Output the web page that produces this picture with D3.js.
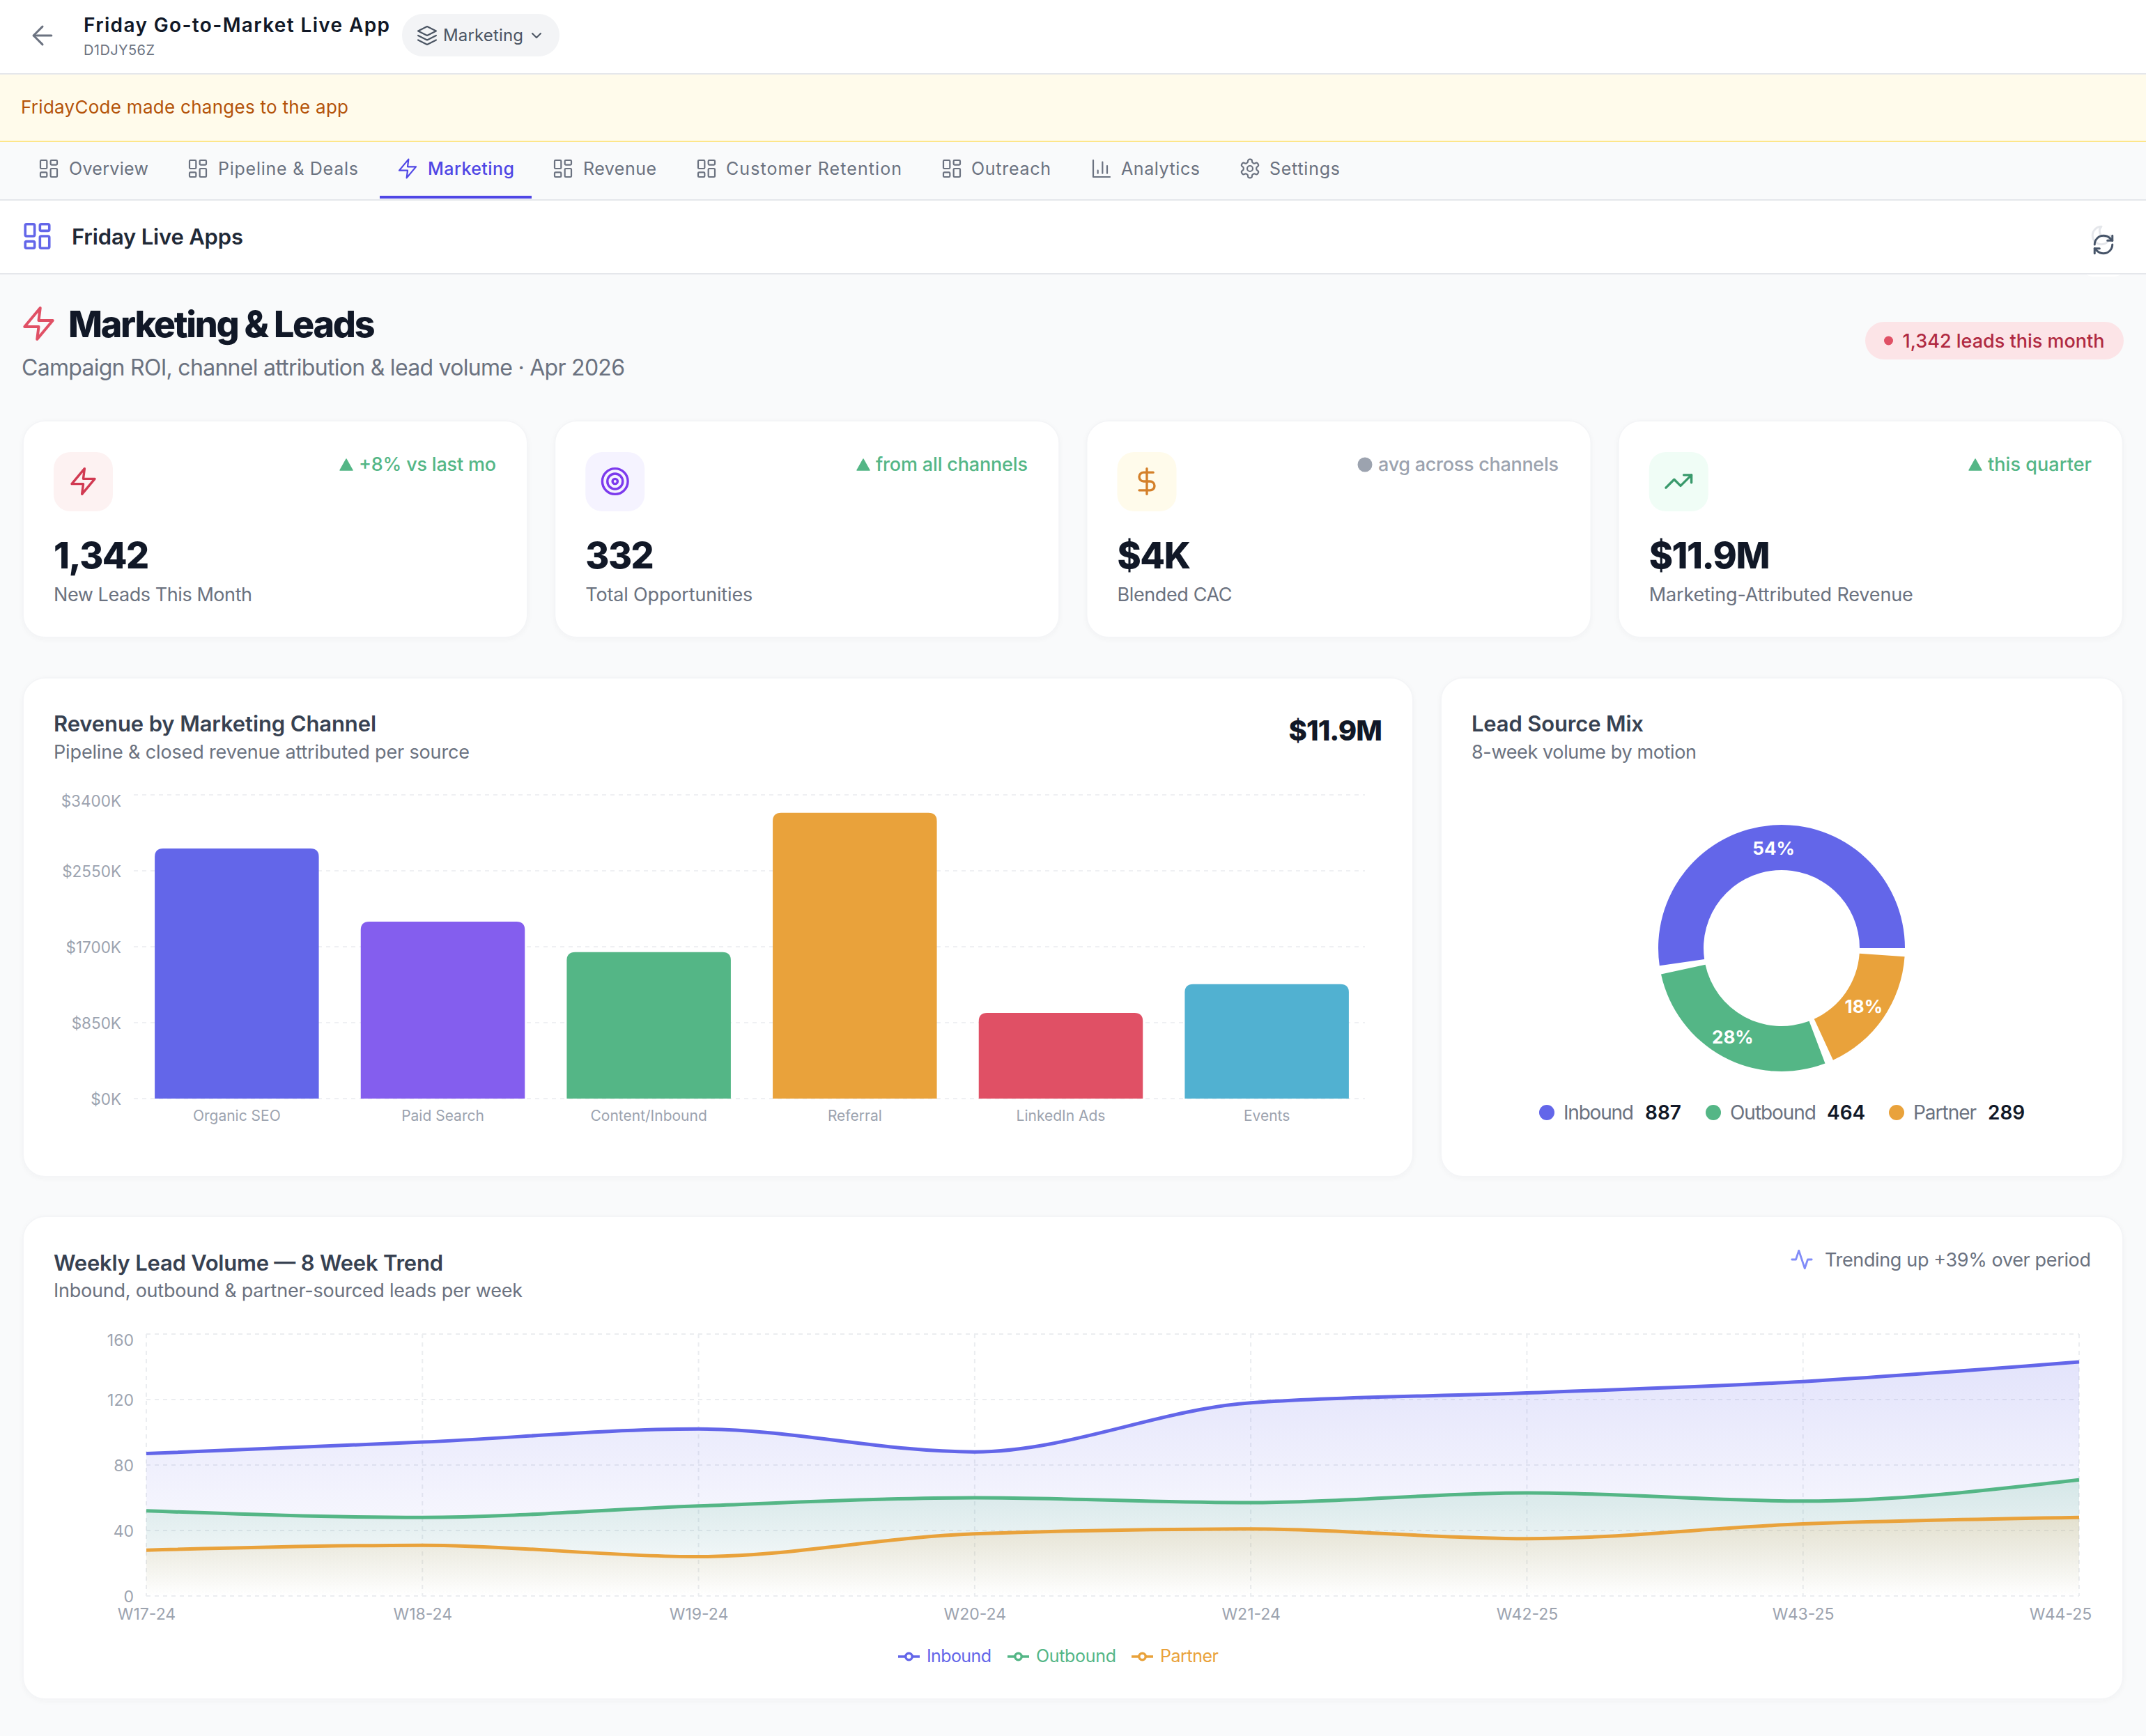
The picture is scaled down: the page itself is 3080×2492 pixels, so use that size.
<!DOCTYPE html>
<html>
<head>
<meta charset="utf-8">
<title>Marketing & Leads</title>
<style>
  html, body { margin: 0; padding: 0; background: #f9fafb; }
  svg { display: block; font-family: Inter, "Noto Sans", sans-serif; }
  .card { fill: #fff; stroke: #f4f5f7; stroke-width: 2; filter: drop-shadow(0 2px 3px rgba(17,24,39,.03)); }
  .icon path, .icon rect, .icon circle { fill: none; stroke-linecap: round; stroke-linejoin: round; }
</style>
</head>
<body>
<script src="https://cdn.jsdelivr.net/npm/d3@7"></script>
<script>
// chart data
var channels = ["Organic SEO", "Paid Search", "Content/Inbound", "Referral", "LinkedIn Ads", "Events"];
var channelRevenue = [2800, 1980, 1640, 3200, 960, 1280];
var revenueTicks = [0, 850, 1700, 2550, 3400];

var mixNames = ["Inbound", "Outbound", "Partner"];
var mixValues = [887, 464, 289];
var mixPercent = ["54%", "28%", "18%"];

var weeks = ["W17-24", "W18-24", "W19-24", "W20-24", "W21-24", "W42-25", "W43-25", "W44-25"];
var inbound = [87, 94, 102, 88, 118, 124, 131, 143];
var outbound = [52, 48, 55, 60, 57, 63, 58, 71];
var partner = [28, 31, 24, 38, 41, 35, 44, 48];
var volumeTicks = [0, 40, 80, 120, 160];

var kpiValues = ["1,342", "332", "$4K", "$11.9M"];
var kpiLabels = ["New Leads This Month", "Total Opportunities", "Blended CAC", "Marketing-Attributed Revenue"];
var kpiNotes = ["+8% vs last mo", "from all channels", "avg across channels", "this quarter"];

var tabNames = ["Overview", "Pipeline & Deals", "Marketing", "Revenue", "Customer Retention", "Outreach", "Analytics", "Settings"];

// colours
var indigo = "#6366e9", green = "#54b686", amber = "#e9a23b", rose = "#e05065";
var channelColor = d3.scaleOrdinal(channels, [indigo, "#845eee", green, amber, rose, "#51b1d1"]);
var mixColor = d3.scaleOrdinal(mixNames, [indigo, green, amber]);

// lucide style icons, 24 unit box
var icons = {
  back: ["m12 19-7-7 7-7", "M19 12H5"],
  layers: ["M12 2 2 7l10 5 10-5-10-5z", "M2 12l10 5 10-5", "M2 17l10 5 10-5"],
  chevron: ["m6 9 6 6 6-6"],
  dash: ["M4 3h5a1 1 0 0 1 1 1v7a1 1 0 0 1-1 1H4a1 1 0 0 1-1-1V4a1 1 0 0 1 1-1z",
         "M15 3h5a1 1 0 0 1 1 1v3a1 1 0 0 1-1 1h-5a1 1 0 0 1-1-1V4a1 1 0 0 1 1-1z",
         "M15 12h5a1 1 0 0 1 1 1v7a1 1 0 0 1-1 1h-5a1 1 0 0 1-1-1v-7a1 1 0 0 1 1-1z",
         "M4 16h5a1 1 0 0 1 1 1v3a1 1 0 0 1-1 1H4a1 1 0 0 1-1-1v-3a1 1 0 0 1 1-1z"],
  zap: ["M13 2 3 14h9l-1 8 10-12h-9l1-8z"],
  bars: ["M3 3v18h18", "M18 17V9", "M13 17V5", "M8 17v-3"],
  gear: ["M12.22 2h-.44a2 2 0 0 0-2 2v.18a2 2 0 0 1-1 1.73l-.43.25a2 2 0 0 1-2 0l-.15-.08a2 2 0 0 0-2.73.73l-.22.38a2 2 0 0 0 .73 2.73l.15.1a2 2 0 0 1 1 1.72v.51a2 2 0 0 1-1 1.74l-.15.09a2 2 0 0 0-.73 2.73l.22.38a2 2 0 0 0 2.73.73l.15-.08a2 2 0 0 1 2 0l.43.25a2 2 0 0 1 1 1.73V20a2 2 0 0 0 2 2h.44a2 2 0 0 0 2-2v-.18a2 2 0 0 1 1-1.73l.43-.25a2 2 0 0 1 2 0l.15.08a2 2 0 0 0 2.73-.73l.22-.39a2 2 0 0 0-.73-2.73l-.15-.08a2 2 0 0 1-1-1.74v-.5a2 2 0 0 1 1-1.74l.15-.09a2 2 0 0 0 .73-2.73l-.22-.38a2 2 0 0 0-2.73-.73l-.15.08a2 2 0 0 1-2 0l-.43-.25a2 2 0 0 1-1-1.73V4a2 2 0 0 0-2-2z",
         "M15 12a3 3 0 1 1-6 0 3 3 0 0 1 6 0z"],
  refresh: ["M3 12a9 9 0 0 1 9-9 9.75 9.75 0 0 1 6.74 2.74L21 8", "M21 3v5h-5", "M21 12a9 9 0 0 1-9 9 9.75 9.75 0 0 1-6.74-2.74L3 16", "M8 16H3v5"],
  moon: ["M12 3a6 6 0 0 0 9 9 9 9 0 1 1-9-9Z"],
  target: ["M22 12a10 10 0 1 1-20 0 10 10 0 0 1 20 0z", "M18 12a6 6 0 1 1-12 0 6 6 0 0 1 12 0z", "M14 12a2 2 0 1 1-4 0 2 2 0 0 1 4 0z"],
  dollar: ["M12 2v20", "M17 5H9.5a3.5 3.5 0 0 0 0 7h5a3.5 3.5 0 0 1 0 7H6"],
  trend: ["M22 7 13.5 15.5 8.5 10.5 2 17", "M16 7h6v6"],
  pulse: ["M22 12h-4l-3 9L9 3l-3 9H2"]
};

var svg = d3.select("body").append("svg").attr("width", 3080).attr("height", 2492);
var defs = svg.append("defs");

function icon(name, cx, cy, size, color, sw) {
  var k = size / 24;
  var g = svg.append("g").attr("class", "icon")
    .attr("transform", "translate(" + (cx - size / 2) + "," + (cy - size / 2) + ") scale(" + k + ")");
  g.selectAll("path").data(icons[name]).join("path")
    .attr("d", function(d) { return d; })
    .attr("stroke", color)
    .attr("stroke-width", sw / k);
}

// w = width the text should take in the picture
function label(x, y, str, size, fill, weight, anchor, w, spacing) {
  var t = svg.append("text").attr("x", x).attr("y", y).text(str)
    .attr("font-size", size).attr("fill", fill)
    .attr("font-weight", weight || 400)
    .attr("text-anchor", anchor || "start");
  if (w) t.attr("textLength", w);
  if (spacing) t.attr("letter-spacing", spacing);
  return t;
}

function box(x, y, w, h, fill, rx) {
  return svg.append("rect").attr("x", x).attr("y", y).attr("width", w).attr("height", h)
    .attr("fill", fill).attr("rx", rx || 0);
}

function card(x, y, w, h) {
  svg.append("rect").attr("class", "card").attr("x", x).attr("y", y)
    .attr("width", w).attr("height", h).attr("rx", 32);
}

function triangle(x0, x1, y0, y1, color) {
  svg.append("path")
    .attr("d", "M" + (x0 + x1) / 2 + "," + y0 + "L" + x1 + "," + y1 + "L" + x0 + "," + y1 + "Z")
    .attr("fill", color).attr("stroke", color).attr("stroke-width", 1.5).attr("stroke-linejoin", "round");
}

// axis() puts sans-serif on its group, take it off again and style the labels
function styleAxis(g, size) {
  g.attr("font-family", null).attr("font-size", null);
  g.select(".domain").remove();
  return g.selectAll("text").attr("font-size", size).attr("fill", "#9ca3af");
}

/* ---- page chrome ---- */
box(0, 0, 3080, 2492, "#f9fafb");
box(0, 0, 3080, 105, "#fff");
box(0, 105, 3080, 2, "#e5e7eb");
icon("back", 61, 51, 44, "#6b7280", 3);
label(120, 46, "Friday Go-to-Market Live App", 28, "#111827", 600, "start", 439);
label(120, 79, "D1DJY56Z", 20, "#6b7280", 400, "start", 102);
box(577, 20, 226, 61, "#f3f4f6", 30);
icon("layers", 613, 51, 31, "#4b5563", 2.2);
label(636, 59, "Marketing", 24, "#4b5563", 400, "start", 115);
icon("chevron", 770, 51, 24, "#4b5563", 2);

box(0, 107, 3080, 96, "#fffbeb");
box(0, 202, 3080, 2, "#fde68a");
label(30, 163, "FridayCode made changes to the app", 26, "#b45309", 400, "start", 470);

box(0, 204, 3080, 82, "#f9fafb");
box(0, 286, 3080, 2, "#e5e7eb");
var tabIcon = ["dash", "dash", "zap", "dash", "dash", "dash", "bars", "gear"];
var tabIconX = [70, 284, 585, 808, 1014, 1366, 1581, 1794];
var tabTextX = [99, 313, 614, 837, 1042, 1394, 1609, 1822];
var tabTextW = [114, 201, 124, 105, 252, 114, 113, 101];
tabNames.forEach(function(name, i) {
  var on = name === "Marketing";
  icon(tabIcon[i], tabIconX[i], 242, 32, on ? "#4f46e5" : "#6b7280", 2.2);
  label(tabTextX[i], 251, name, 25, on ? "#4f46e5" : "#6b7280", on ? 500 : 400, "start", tabTextW[i]);
});
box(545, 281, 218, 4, "#4f46e5");

box(2985, 300, 68, 97, "#fff", 20);
box(0, 288, 3080, 104, "#fff");
box(0, 392, 3080, 2, "#e5e7eb");
icon("dash", 53.5, 339, 46, indigo, 3.6);
label(103, 351, "Friday Live Apps", 31, "#1f2937", 600, "start", 246);
icon("moon", 3016, 338, 34, "#e5e7eb", 3);
icon("refresh", 3019, 351, 34, "#475569", 3);

icon("zap", 55.5, 464.5, 54, rose, 4);
label(98, 484, "Marketing & Leads", 52, "#111827", 800, "start", 439, "-1.5");
label(31, 539, "Campaign ROI, channel attribution & lead volume · Apr 2026", 32, "#6b7280", 400, "start", 866);

box(2677, 462, 371, 54, "#fce4e7", 27);
svg.append("circle").attr("cx", 2710.5).attr("cy", 489).attr("r", 6.5).attr("fill", rose);
label(2730.5, 499, "1,342 leads this month", 27, "#b02a42", 500, "start", 290);

/* ---- kpi cards ---- */
var kpiIcon = ["zap", "target", "dollar", "trend"];
var kpiTint = ["#fdf2f2", "#f5f3ff", "#fffbeb", "#f0fdf6"];
var kpiStroke = ["#d13a52", "#7c3aed", "#d4802a", "#3a9a6c"];
var noteLeft = [515, 1257, 1978, 2853];
var noteWidth = [197, 218, 259, 149];
var labelWidth = [285, 240, 165, 379];
kpiValues.forEach(function(v, i) {
  var x = 33 + i * 763.25;
  card(x, 604, 724, 311);
  box(x + 44, 649, 85, 85, kpiTint[i], 24);
  icon(kpiIcon[i], x + 86.5, 691, 44, kpiStroke[i], 3.4);
  label(x + 44, 816, v, 52, "#111827", 800, "start", null, "-1.5");
  label(x + 44, 863, kpiLabels[i], 27, "#6b7280", 400, "start", labelWidth[i]);
  var flat = i === 2;
  var color = flat ? "#9ca3af" : green;
  if (flat) {
    svg.append("circle").attr("cx", noteLeft[i] - 19).attr("cy", 667).attr("r", 10.5).attr("fill", color);
  } else {
    triangle(noteLeft[i] - 27, noteLeft[i] - 9, 659, 675, color);
  }
  label(noteLeft[i], 676, kpiNotes[i], 27, color, 500, "start", noteWidth[i]);
});

/* ---- revenue bars ---- */
card(33, 973, 1995, 716);
label(77, 1050, "Revenue by Marketing Channel", 31, "#374151", 600, "start", 463);
label(77, 1089, "Pipeline & closed revenue attributed per source", 27, "#6b7280", 400, "start", 597);
label(1983, 1063, "$11.9M", 40, "#111827", 800, "end", null, "-1");

var barX = d3.scaleBand().domain(channels).range([192, 1966]).paddingInner(0.2035).paddingOuter(0.1018);
var barY = d3.scaleLinear().domain([0, 3400]).range([1577, 1141]);

svg.append("g").selectAll("line").data(revenueTicks).join("line")
  .attr("x1", 192).attr("x2", 1959)
  .attr("y1", barY).attr("y2", barY)
  .attr("stroke", "#eff0f3").attr("stroke-width", 2).attr("stroke-dasharray", "6 6");

var barAxis = svg.append("g").attr("transform", "translate(186,0)")
  .call(d3.axisLeft(barY).tickValues(revenueTicks).tickSize(0).tickPadding(12)
    .tickFormat(function(d) { return "$" + d + "K"; }));
styleAxis(barAxis, 22.5)
  .attr("dy", function(d) { return d === 3400 ? "0.72em" : "0.36em"; });

svg.append("g").selectAll("path").data(channels).join("path")
  .attr("fill", function(d) { return channelColor(d); })
  .attr("d", function(d, i) {
    var x = barX(d), w = barX.bandwidth(), y = barY(channelRevenue[i]), b = barY(0), r = 12;
    return "M" + x + "," + b + "V" + (y + r) + "Q" + x + "," + y + " " + (x + r) + "," + y +
      "H" + (x + w - r) + "Q" + (x + w) + "," + y + " " + (x + w) + "," + (y + r) + "V" + b + "Z";
  });

var catAxis = svg.append("g").attr("transform", "translate(0,1577)")
  .call(d3.axisBottom(barX).tickSize(0).tickPadding(17));
styleAxis(catAxis, 21);

/* ---- lead source donut ---- */
card(2068, 973, 979, 716);
label(2112, 1050, "Lead Source Mix", 31, "#374151", 600, "start", 247);
label(2112, 1089, "8-week volume by motion", 27, "#6b7280", 400, "start", 323);

var padA = 4 * Math.PI / 180;
var pie = d3.pie().sort(null).startAngle(Math.PI / 2).endAngle(Math.PI / 2 - 2 * Math.PI).padAngle(padA);
var slices = pie(mixValues);
// pie keeps the pad inside each slice; leave it as a wedge gap after the slice
var arc = d3.arc().innerRadius(112).outerRadius(177)
  .startAngle(function(d) { return d.startAngle; })
  .endAngle(function(d) { return d.endAngle + padA; })
  .padAngle(0);
var donut = svg.append("g").attr("transform", "translate(2557,1361)");
donut.selectAll("path").data(slices).join("path")
  .attr("d", arc)
  .attr("fill", function(d, i) { return mixColor(mixNames[i]); });
donut.selectAll("text").data(slices).join("text")
  .attr("transform", function(d) { return "translate(" + arc.centroid(d) + ")"; })
  .attr("dx", -1).attr("dy", "0.4em").attr("text-anchor", "middle")
  .attr("font-size", 26).attr("font-weight", 700).attr("fill", "#fff")
  .text(function(d, i) { return mixPercent[i]; });

var mixDotX = [2220, 2459, 2722];
var mixNameW = [101, 124, 91];
var mixValueX = [2361, 2622, 2853];
mixNames.forEach(function(name, i) {
  svg.append("circle").attr("cx", mixDotX[i]).attr("cy", 1597).attr("r", 11).attr("fill", mixColor(name));
  label(mixDotX[i] + 24, 1607, name, 28, "#6b7280", 400, "start", mixNameW[i]);
  label(mixValueX[i], 1607, mixValues[i], 28, "#111827", 600);
});

/* ---- weekly volume ---- */
card(33, 1746, 3014, 693);
label(77, 1824, "Weekly Lead Volume — 8 Week Trend", 31, "#374151", 600, "start", 559);
label(77, 1862, "Inbound, outbound & partner-sourced leads per week", 27, "#6b7280", 400, "start", 673);
icon("pulse", 2586, 1808, 34, "#818cf8", 2.8);
label(2619, 1818, "Trending up +39% over period", 27, "#6b7280", 400, "start", 382);

var lineX = d3.scalePoint().domain(weeks).range([210, 2984]);
var lineY = d3.scaleLinear().domain([0, 160]).range([2291, 1915]);

var gridG = svg.append("g").attr("stroke", "#ebedf0").attr("stroke-width", 2).attr("stroke-dasharray", "6 6");
gridG.selectAll(".h").data(volumeTicks).join("line").attr("class", "h")
  .attr("x1", 210).attr("x2", 2984).attr("y1", lineY).attr("y2", lineY);
gridG.selectAll(".v").data(weeks).join("line").attr("class", "v")
  .attr("x1", lineX).attr("x2", lineX).attr("y1", 1915).attr("y2", 2291);

var series = [inbound, outbound, partner];
var area = d3.area().curve(d3.curveMonotoneX)
  .x(function(d, i) { return lineX(weeks[i]); })
  .y0(lineY(0))
  .y1(function(d) { return lineY(d); });
var line = d3.line().curve(d3.curveMonotoneX)
  .x(function(d, i) { return lineX(weeks[i]); })
  .y(function(d) { return lineY(d); });

mixNames.forEach(function(name, i) {
  var grad = defs.append("linearGradient").attr("id", "fill" + i)
    .attr("x1", 0).attr("y1", 0).attr("x2", 0).attr("y2", 1);
  grad.append("stop").attr("offset", 0).attr("stop-color", mixColor(name)).attr("stop-opacity", 0.18);
  grad.append("stop").attr("offset", 1).attr("stop-color", mixColor(name)).attr("stop-opacity", 0);
  svg.append("path").attr("d", area(series[i])).attr("fill", "url(#fill" + i + ")");
});
mixNames.forEach(function(name, i) {
  svg.append("path").attr("d", line(series[i])).attr("fill", "none")
    .attr("stroke", mixColor(name)).attr("stroke-width", 5);
});

var volAxis = svg.append("g").attr("transform", "translate(192,0)")
  .call(d3.axisLeft(lineY).tickValues(volumeTicks).tickSize(0).tickPadding(0));
styleAxis(volAxis, 23)
  .attr("dy", function(d) { return d === 160 ? "0.72em" : "0.36em"; });

var weekAxis = svg.append("g").attr("transform", "translate(0,2291)")
  .call(d3.axisBottom(lineX).tickSize(0).tickPadding(18));
styleAxis(weekAxis, 23)
  .attr("dx", function(d) { return d === "W44-25" ? -27 : 0; });

var legLine = [1289, 1446, 1624];
var legText = [1330, 1487, 1665];
var legW = [93, 115, 84];
mixNames.forEach(function(name, i) {
  var c = mixColor(name);
  svg.append("line").attr("x1", legLine[i]).attr("x2", legLine[i] + 31)
    .attr("y1", 2378).attr("y2", 2378).attr("stroke", c).attr("stroke-width", 3.5);
  svg.append("circle").attr("cx", legLine[i] + 15.5).attr("cy", 2378).attr("r", 4.75)
    .attr("fill", "#fff").attr("stroke", c).attr("stroke-width", 3.5);
  label(legText[i], 2386, name, 25, c, 400, "start", legW[i]);
});
</script>
</body>
</html>
